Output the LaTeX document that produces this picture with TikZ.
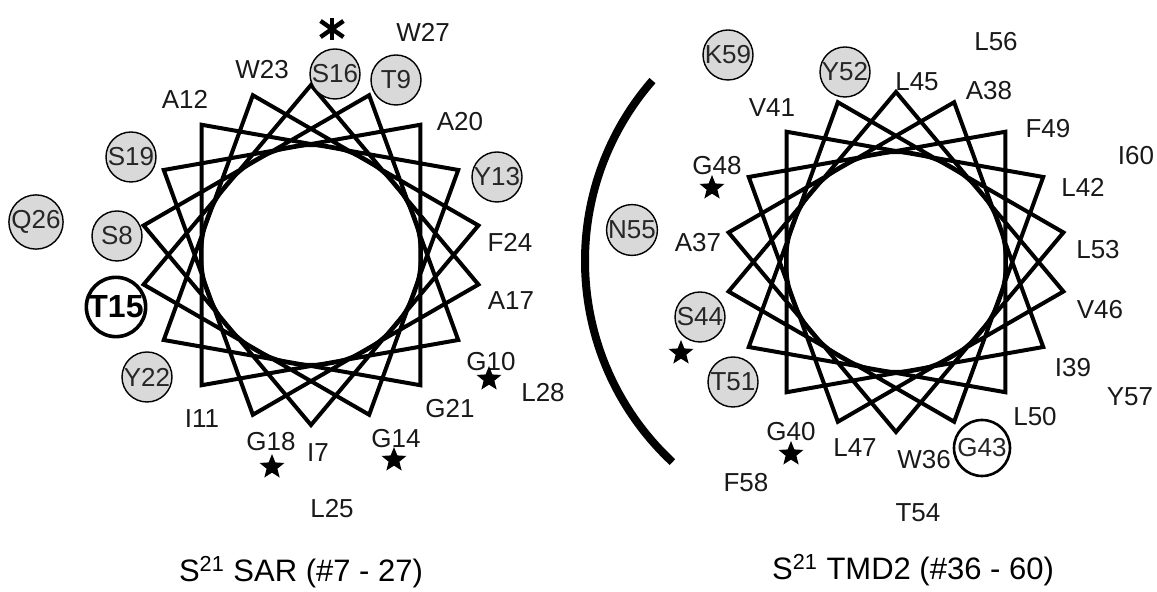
\documentclass[tikz,border=0pt]{standalone}
\usepackage{fontspec}
\setmainfont{Liberation Sans}
\usetikzlibrary{shapes.geometric}
\begin{document}
\begin{tikzpicture}[x=0.5pt,y=0.5pt,
  lbl/.style={inner sep=0pt,font=\fontsize{13}{15}\selectfont,text=black!90},
  res/.style={circle,draw,line width=0.7pt,fill=gray!30,minimum size=25pt,inner sep=0pt,font=\fontsize{13}{15}\selectfont,text=black!85},
  boldres/.style={circle,draw,line width=1.8pt,fill=white,minimum size=29pt,inner sep=0pt,font=\fontsize{16}{18}\selectfont\bfseries},
  ringres/.style={circle,draw,line width=1.3pt,fill=white,minimum size=28pt,inner sep=0pt,font=\fontsize{13}{15}\selectfont,text=black!85},
  starmark/.style={star,star points=5,star point ratio=2.3,fill=black,minimum size=13pt,inner sep=0pt},
  wheel/.style={line width=2pt,line join=miter},
  membrane/.style={line width=4pt},
  astline/.style={line width=2.2pt},
  title/.style={inner sep=0pt,font=\fontsize{15.5}{18}\selectfont}]
\useasboundingbox (0,0) rectangle (1157,-592);

% ---------- left wheel (SAR) ----------
\begin{scope}[shift={(311,-255)}]
  \draw[wheel] (90:170) \foreach \i in {1,...,17}{ -- ({90-100*\i}:170) } -- cycle;
  \draw[wheel] (0,0) circle (110);
\end{scope}

% ---------- right wheel (TMD2) ----------
\begin{scope}[shift={(896,-262)}]
  \draw[wheel] (90:170) \foreach \i in {1,...,17}{ -- ({90-100*\i}:170) } -- cycle;
  \draw[wheel] (0,0) circle (110);
\end{scope}

% membrane arc
\coordinate (arcc) at (860,-261);
\draw[membrane] (arcc) ++(139:275) arc[start angle=139,end angle=227,radius=275];

% asterisk
\coordinate (ast) at (332,-29);
\draw[astline] (ast) ++(0,11) -- ++(0,-22);
\draw[astline] (ast) ++(35:14) -- ++(215:28);
\draw[astline] (ast) ++(145:14) -- ++(325:28);

% ---------- left labels ----------
\node[lbl] (W27) at (423,-32) {W27};
\node[lbl] (W23) at (262,-70) {W23};
\node[lbl] (A12) at (185,-99) {A12};
\node[lbl] (A20) at (460,-122) {A20};
\node[lbl] (F24) at (510,-242) {F24};
\node[lbl] (A17) at (511,-301) {A17};
\node[lbl] (G10) at (491,-362) {G10};
\node[lbl] (L28) at (543,-393) {L28};
\node[lbl] (G21) at (450,-409) {G21};
\node[lbl] (I11) at (202,-419) {I11};
\node[lbl] (G18) at (271,-442) {G18};
\node[lbl] (I7) at (318,-453) {I7};
\node[lbl] (G14) at (396,-439) {G14};
\node[lbl] (L25) at (332,-509) {L25};

\node[res] (S16) at (335,-74) {S16};
\node[res] (T9) at (396,-80) {T9};
\node[res] (S19) at (131,-157) {S19};
\node[res] (Y13) at (497,-177) {Y13};
\node[res] (Q26) at (36,-222) {Q26};
\node[res] (S8) at (117,-236) {S8};
\node[res] (Y22) at (147,-377) {Y22};
\node[boldres] (T15) at (116,-307) {T15};

\node[starmark] (sG10) at (489,-379) {};
\node[starmark] (sG18) at (272,-467) {};
\node[starmark] (sG14) at (394,-460) {};

\node[title] (t1) at (301,-572) {S\textsuperscript{21} SAR (\#7 - 27)};

% ---------- right labels ----------
\node[lbl] (L56) at (996,-42) {L56};
\node[lbl] (L45) at (917,-82) {L45};
\node[lbl] (A38) at (989,-91) {A38};
\node[lbl] (V41) at (772,-108) {V41};
\node[lbl] (F49) at (1048,-129) {F49};
\node[lbl] (I60) at (1136,-156) {I60};
\node[lbl] (G48) at (717,-166) {G48};
\node[lbl] (L42) at (1083,-187) {L42};
\node[lbl] (A37) at (698,-243) {A37};
\node[lbl] (L53) at (1098,-250) {L53};
\node[lbl] (V46) at (1100,-310) {V46};
\node[lbl] (I39) at (1073,-368) {I39};
\node[lbl] (Y57) at (1130,-397) {Y57};
\node[lbl] (L50) at (1035,-417) {L50};
\node[lbl] (G40) at (791,-432) {G40};
\node[lbl] (L47) at (855,-448) {L47};
\node[lbl] (W36) at (924,-460) {W36};
\node[lbl] (F58) at (746,-483) {F58};
\node[lbl] (T54) at (918,-513) {T54};

\node[res] (K59) at (728,-55) {K59};
\node[res] (Y52) at (845,-72) {Y52};
\node[res] (N55) at (632,-230) {N55};
\node[res] (S44) at (700,-317) {S44};
\node[res] (T51) at (733,-382) {T51};
\node[ringres] (G43) at (982,-448) {G43};

\node[starmark] (sG48) at (712,-188) {};
\node[starmark] (sS44) at (681,-353) {};
\node[starmark] (sG40) at (791,-454) {};

\node[title] (t2) at (913,-570) {S\textsuperscript{21} TMD2 (\#36 - 60)};
\end{tikzpicture}
\end{document}
